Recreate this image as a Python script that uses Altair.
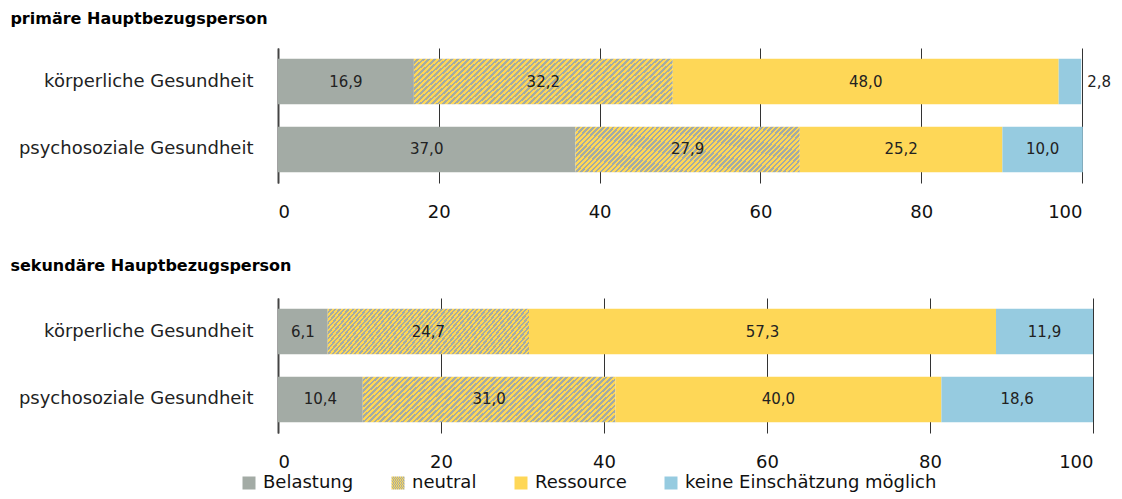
import json
import altair as alt
import pandas as pd

groups = ["primäre Hauptbezugsperson", "sekundäre Hauptbezugsperson"]
rows = ["körperliche Gesundheit", "psychosoziale Gesundheit"]
cats = ["Belastung", "neutral", "Ressource", "keine Einschätzung möglich"]

# values per (group,row): primär-körperlich, primär-psychosozial, sekundär-körperlich, sekundär-psychosozial
belastung = [16.9, 37.0, 6.1, 10.4]
neutral = [32.2, 27.9, 24.7, 31.0]
ressource = [48.0, 25.2, 57.3, 40.0]
keine = [2.8, 10.0, 11.9, 18.6]

GRAY = "#a3aba5"
YELLOW = "#fed757"
BLUE = "#96cbe0"

records = []
series = [belastung, neutral, ressource, keine]
i = 0
for g in groups:
    for r in rows:
        for k, (c, s) in enumerate(zip(cats, series)):
            records.append({"grp": g, "row": r, "cat": c, "order": k, "v": s[i],
                            "label": f"{s[i]:.1f}".replace(".", ",")})
        i += 1
df = pd.DataFrame(records)

# hatch pattern as a striped linear gradient (bbox units), tuned for ~235x45 bars
w, h, period = 235.0, 45.0, 5.2
s = (w + h) * w * h / (w * w + h * h)
n = int(round((w + h) / period))
stops = []
for j in range(n):
    stops += [{"offset": j / n, "color": YELLOW}, {"offset": (j + 0.5) / n, "color": YELLOW},
              {"offset": (j + 0.5) / n, "color": GRAY}, {"offset": (j + 1) / n, "color": GRAY}]
hatch = {"gradient": "linear", "x1": 0, "y1": 0, "x2": round(s / h, 4), "y2": round(s / w, 4), "stops": stops}
hatch_expr = json.dumps(hatch)

FONT = "DejaVu Sans"

color_scale = alt.Scale(domain=cats, range=[GRAY, alt.ExprRef(hatch_expr), YELLOW, BLUE])
legend = alt.Legend(orient="none", direction="horizontal", title=None, symbolType="square",
                    symbolSize=169, symbolStrokeWidth=0, labelFontSize=18, labelFont=FONT,
                    labelColor="#111", labelOffset=5, columnPadding=35, legendX=-38, legendY=426,
                    labelLimit=400)


def panel(g, width, legend_on, title_offset):
    base = alt.Chart(df).transform_filter(alt.datum.grp == g).transform_stack(
        stack="v", groupby=["row"], as_=["v0", "v1"], sort=[alt.SortField("order", "ascending")]
    ).transform_calculate(mid="(datum.v0 + datum.v1) / 2")
    y = alt.Y("row:N", sort=rows, title=None,
              scale=alt.Scale(paddingInner=0.333, paddingOuter=0.16),
              axis=alt.Axis(domain=True, domainColor="#444", domainWidth=2, ticks=False, grid=False,
                            labelPadding=25, labelFontSize=18, labelFont=FONT, labelColor="#222",
                            labelLimit=400))
    bars = base.mark_bar().encode(
        x=alt.X("v0:Q", title=None, scale=alt.Scale(domain=[0, 100], nice=False),
                axis=alt.Axis(values=[0, 20, 40, 60, 80, 100], grid=True, gridColor="#333",
                              gridWidth=1, domain=False, ticks=False, labelPadding=20,
                              labelFontSize=18, labelFont=FONT, labelColor="#111")),
        x2="v1:Q",
        y=y,
        color=alt.Color("cat:N", scale=color_scale, sort=cats, legend=legend if legend_on else None),
    )
    inside = base.transform_filter(alt.datum.v >= 5).mark_text(
        fontSize=15, font=FONT, color="#222").encode(x="mid:Q", y=y, text="label:N")
    outside = base.transform_filter(alt.datum.v < 5).mark_text(
        fontSize=15, font=FONT, color="#222", align="left", dx=6).encode(x="v1:Q", y=y, text="label:N")
    return alt.layer(bars, inside, outside).properties(
        width=width, height=135,
        title=alt.TitleParams(g, anchor="start", frame="bounds", fontSize=16, font=FONT,
                              fontWeight="bold", color="#000", dx=-8, offset=title_offset),
    )


chart = alt.vconcat(panel(groups[0], 804, True, 21), panel(groups[1], 815, False, 24), spacing=37).properties(
    padding={"left": 2, "top": 3, "right": 0, "bottom": 0}
).configure_view(stroke=None).configure_axis(labelFont=FONT)

chart.save("out.html", embed_options={"renderer": "svg", "actions": False})
